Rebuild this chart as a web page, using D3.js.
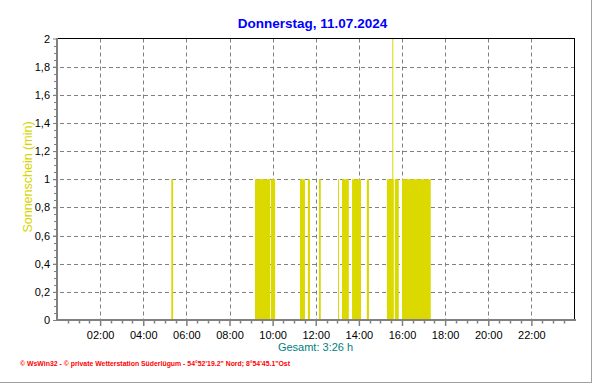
<!DOCTYPE html>
<html>
<head>
<meta charset="utf-8">
<script src="https://cdn.jsdelivr.net/npm/d3@7/dist/d3.min.js"></script>
<style>
  html, body { margin: 0; padding: 0; background: #fff; }
  svg { display: block; }
</style>
</head>
<body>
<div id="chart"></div>
<script>
// ---- data ----
const titleText = "Donnerstag, 11.07.2024";
const yAxisTitle = "Sonnenschein  (min)";
const totalText = "Gesamt: 3:26 h";
const footerText = "\u00a9 WsWin32  -  \u00a9 private Wetterstation S\u00fcderl\u00fcgum  -  54\u00b052'19.2\" Nord; 8\u00b054'45.1\"Ost";

// sunshine periods (start, end as HH:MM, value in min per minute)
const sunStart = ["05:18","09:11","09:55","11:16","11:38","12:09","13:02","13:13","13:41","14:22","15:18","15:40","16:00","15:33"];
const sunEnd   = ["05:23","09:53","10:07","11:30","11:44","12:14","13:04","13:32","14:06","14:28","15:37","15:51","17:20","15:35"];
const sunValue = [1,1,1,1,1,1,1,1,1,1,1,1,1,2];

const xTickLabels = ["02:00","04:00","06:00","08:00","10:00","12:00","14:00","16:00","18:00","20:00","22:00"];
const yTickValues = [0,0.2,0.4,0.6,0.8,1,1.2,1.4,1.6,1.8,2];
const yTickLabels = ["0","0,2","0,4","0,6","0,8","1","1,2","1,4","1,6","1,8","2"];

// ---- helpers ----
const toMin = s => { const [h,m] = s.split(":").map(Number); return h*60+m; };

const W = 592, H = 384;
const L = 57, R = 574.5, T = 38.5, B = 320;

const svg = d3.select("#chart").append("svg").attr("width", W).attr("height", H)
  .style("font-family", "'Liberation Sans', Arial, sans-serif");

svg.append("rect").attr("width", W).attr("height", H).attr("fill", "#fff");

const x = d3.scaleLinear().domain([0, 1440]).range([L, R]);
const y = d3.scaleLinear().domain([0, 2]).range([B, T]);

const gridColor = "#808080";

// vertical grid (every 2 h)
const xTickMins = xTickLabels.map(toMin);
svg.append("g").selectAll("line").data(xTickMins).join("line")
  .attr("x1", d => Math.round(x(d)) + 0.5).attr("x2", d => Math.round(x(d)) + 0.5)
  .attr("y1", T).attr("y2", B)
  .attr("stroke", gridColor).attr("stroke-dasharray", "4,3");

// horizontal grid
svg.append("g").selectAll("line").data(yTickValues.slice(1, -1)).join("line")
  .attr("x1", L - 4).attr("x2", R)
  .attr("y1", d => Math.round(y(d)) + 0.5).attr("y2", d => Math.round(y(d)) + 0.5)
  .attr("stroke", gridColor).attr("stroke-dasharray", "4,3");

// bars
const periods = sunStart.map((s, i) => ({ s: toMin(s), e: toMin(sunEnd[i]), v: sunValue[i] }));
svg.append("g").selectAll("rect").data(periods).join("rect")
  .attr("x", d => x(d.s))
  .attr("width", d => Math.max(1, x(d.e) - x(d.s)))
  .attr("y", d => y(d.v))
  .attr("height", d => y(0) - y(d.v))
  .attr("fill", "#dbd900");

// top and right borders
svg.append("line").attr("x1", L).attr("x2", R + 0.5).attr("y1", T).attr("y2", T)
  .attr("stroke", "#000").attr("stroke-width", 1);
svg.append("line").attr("x1", R).attr("x2", R).attr("y1", T).attr("y2", B)
  .attr("stroke", "#000").attr("stroke-width", 1);

// y axis
const yAxis = d3.axisLeft(y).tickValues(yTickValues)
  .tickFormat((d, i) => yTickLabels[i]).tickSize(4).tickPadding(3);
const gy = svg.append("g").attr("transform", `translate(${L},0)`).call(yAxis);
gy.select(".domain").remove();
gy.selectAll(".tick line").attr("stroke", gridColor);
gy.selectAll("text").attr("font-size", 11).attr("fill", "#000")
  .attr("font-family", "'Liberation Sans', Arial, sans-serif");

// y minor ticks
const yMinor = d3.range(0, 2.0001, 0.05).filter(v => Math.abs(v*5 - Math.round(v*5)) > 1e-6);
svg.append("g").selectAll("line").data(yMinor).join("line")
  .attr("x1", L - 3).attr("x2", L)
  .attr("y1", d => Math.round(y(d)) + 0.5).attr("y2", d => Math.round(y(d)) + 0.5)
  .attr("stroke", gridColor);

// x axis
const xAxis = d3.axisBottom(x).tickValues(xTickMins)
  .tickFormat((d, i) => xTickLabels[i]).tickSize(6).tickPadding(5);
const gx = svg.append("g").attr("transform", `translate(0,${B})`).call(xAxis);
gx.select(".domain").remove();
gx.selectAll(".tick line").attr("stroke", gridColor).attr("stroke-width", 1.5);
gx.selectAll("text").attr("font-size", 11).attr("fill", "#000")
  .attr("font-family", "'Liberation Sans', Arial, sans-serif");

// x minor ticks every 30 min
const xMinor = d3.range(30, 1440, 30).filter(m => m % 120 !== 0);
svg.append("g").selectAll("line").data(xMinor).join("line")
  .attr("x1", d => Math.round(x(d)) + 0.5).attr("x2", d => Math.round(x(d)) + 0.5)
  .attr("y1", B).attr("y2", B + 3.5)
  .attr("stroke", gridColor).attr("stroke-width", 1.5);

// axis lines (gray, thick)
svg.append("line").attr("x1", L).attr("x2", L).attr("y1", T - 0.5).attr("y2", B + 1)
  .attr("stroke", gridColor).attr("stroke-width", 2);
svg.append("line").attr("x1", L - 1).attr("x2", R + 1.5).attr("y1", B).attr("y2", B)
  .attr("stroke", gridColor).attr("stroke-width", 2);

// title
svg.append("text").attr("x", 312.5).attr("y", 28).attr("text-anchor", "middle")
  .attr("font-size", 13.5).attr("font-weight", "bold").attr("fill", "#0000ff")
  .text(titleText);

// y axis title
svg.append("text").attr("transform", `translate(32,${177}) rotate(-90)`)
  .attr("text-anchor", "middle").attr("font-size", 12.5).attr("fill", "#d8d400")
  .text(yAxisTitle);

// total
svg.append("text").attr("x", 315.5).attr("y", 351).attr("text-anchor", "middle")
  .attr("font-size", 11).attr("fill", "#008080").text(totalText);

// footer
svg.append("text").attr("x", 20).attr("y", 366)
  .attr("font-size", 7).attr("font-weight", "bold").attr("fill", "#ff0000")
  .attr("textLength", 270).attr("lengthAdjust", "spacingAndGlyphs")
  .text(footerText);

// window frame
svg.append("line").attr("x1", 591.5).attr("x2", 591.5).attr("y1", 0).attr("y2", 383)
  .attr("stroke", "#a0a0a0");
svg.append("line").attr("x1", 0).attr("x2", 592).attr("y1", 382.5).attr("y2", 382.5)
  .attr("stroke", "#a0a0a0");
</script>
</body>
</html>
